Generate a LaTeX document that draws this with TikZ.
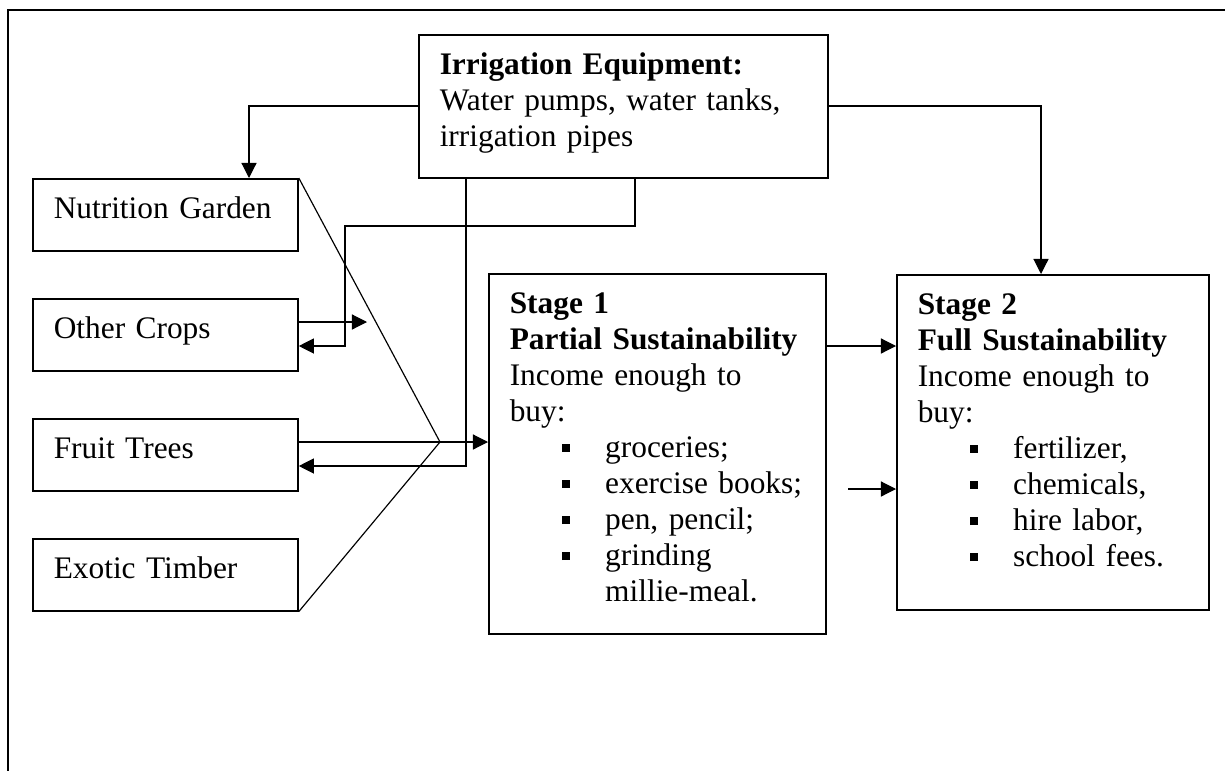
\documentclass[tikz,border=0pt]{standalone}
\usepackage{fontspec}
\setmainfont{Liberation Serif}
\usepackage{tikz}
\usetikzlibrary{arrows.meta}
\newcommand{\sqitem}[1]{\hspace*{20pt}\makebox[16.5pt][l]{\rule[2.1pt]{3.1pt}{3.1pt}}#1}
\tikzset{
  panel/.style={draw, line width=0.65pt, anchor=north west, inner xsep=8pt, inner ysep=0pt,
    align=left, text height=15pt, font=\fontsize{12}{13.8}\selectfont},
  link/.style={line width=0.45pt}
}
\begin{document}
\begin{tikzpicture}[line cap=butt,line join=miter,>={Triangle[length=5.8pt,width=5.8pt]},x=0.3825pt,y=-0.3825pt]
      \useasboundingbox (0,0) rectangle (1225,770);
      \draw[line width=0.75pt] (8,790) -- (8,10) -- (1245,10);
      % boxes
      \node[panel, text width=140.4pt, text depth=39.7pt] (irr) at (418,34)
        {\textbf{Irrigation Equipment:}\\Water pumps, water tanks,\\irrigation pipes};
      \node[panel, text width=85.4pt, text depth=12.5pt] (nut) at (32,178) {Nutrition Garden};
      \node[panel, text width=85.4pt, text depth=12.5pt] (oth) at (32,298) {Other Crops};
      \node[panel, text width=85.4pt, text depth=12.5pt] (fru) at (32,418) {Fruit Trees};
      \node[panel, text width=85.4pt, text depth=12.5pt] (exo) at (32,538) {Exotic Timber};
      \node[panel, text width=112.9pt, text depth=122.7pt] (st1) at (488,273)
        {\textbf{Stage 1}\\\textbf{Partial Sustainability}\\Income enough to\\buy:\\
         \sqitem{groceries;}\\\sqitem{exercise books;}\\\sqitem{pen, pencil;}\\
         \sqitem{grinding}\\\hspace*{36.5pt}millie-meal.};
      \node[panel, text width=103.3pt, text depth=113.1pt] (st2) at (896,274)
        {\textbf{Stage 2}\\\textbf{Full Sustainability}\\Income enough to\\buy:\\
         \sqitem{fertilizer,}\\\sqitem{chemicals,}\\\sqitem{hire labor,}\\\sqitem{school fees.}};
      % connectors
      \coordinate (hub) at (440,442);
      \coordinate (othout) at (367,322);
      \coordinate (lowin) at (848,489);
      \draw[link,->] (irr.west |- 0,106) -| (nut.north -| 249,0);
      \draw[link,->] (irr.east |- 0,106) -| (st2.north -| 1041,0);
      \draw[link,->] (irr.south -| 466,0) |- (fru.east |- 0,466);
      \draw[link,->] (irr.south -| 635,0) |- (345,226) |- (oth.east |- 0,346);
      \draw[link,->] (oth.east |- othout) -- (othout);
      \draw[link,->] (fru.east |- hub) -- (hub) -- (st1.west |- hub);
      \draw[link] (nut.north east) -- (hub) -- (exo.south east);
      \draw[link,->] (st1.east |- 0,346) -- (st2.west |- 0,346);
      \draw[link,->] (lowin) -- (st2.west |- lowin);
\end{tikzpicture}
\end{document}
